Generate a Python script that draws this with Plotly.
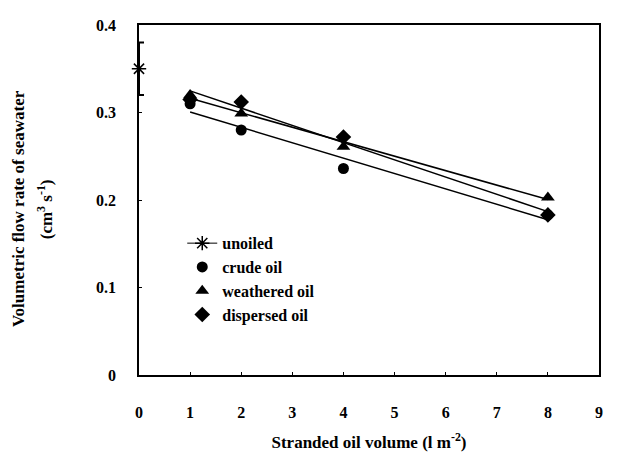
import numpy as np
import plotly.graph_objects as go

# Data
unoiled_x = [0]
unoiled_y = [0.35]
unoiled_err = [0.03]

oil_x = [1, 2, 4, 8]
crude_y = [0.310, 0.280, 0.236, 0.183]
weathered_y = [0.320, 0.299, 0.261, 0.203]
dispersed_y = [0.315, 0.312, 0.272, 0.183]

x_ticks = [0, 1, 2, 3, 4, 5, 6, 7, 8, 9]
y_ticks = [0, 0.1, 0.2, 0.3, 0.4]
y_tick_labels = ["0", "0.1", "0.2", "0.3", "0.4"]

y_title_lines = ["<b>Volumetric flow rate of seawater</b>",
                 "<b>(cm<sup>3</sup> s<sup>-1</sup>)</b>"]

FONT = "Liberation Serif"

fig = go.Figure()

# trend lines (linear fits of the data)
for ys in (crude_y, weathered_y, dispersed_y):
    slope, intercept = np.polyfit(oil_x, ys, 1)
    xs = [min(oil_x), max(oil_x)]
    fig.add_trace(go.Scatter(
        x=xs, y=[slope * v + intercept for v in xs], mode="lines",
        line=dict(color="black", width=1.5), showlegend=False, hoverinfo="skip"))

fig.add_trace(go.Scatter(
    x=unoiled_x, y=unoiled_y, mode="lines+markers", name="unoiled",
    line=dict(color="black", width=1),
    marker=dict(symbol="asterisk-open", size=12, color="black",
                line=dict(color="black", width=1.5)),
    error_y=dict(type="data", array=unoiled_err, visible=True,
                 color="black", thickness=2, width=5),
    cliponaxis=False))

fig.add_trace(go.Scatter(
    x=oil_x, y=crude_y, mode="markers", name="crude oil",
    marker=dict(symbol="circle", size=11, color="black")))
fig.add_trace(go.Scatter(
    x=oil_x, y=weathered_y, mode="markers", name="weathered oil",
    marker=dict(symbol="triangle-up", size=12, color="black")))
fig.add_trace(go.Scatter(
    x=oil_x, y=dispersed_y, mode="markers", name="dispersed oil",
    marker=dict(symbol="diamond", size=12, color="black")))

# y-axis title as two separately placed lines
for xpos, txt in zip([-0.263, -0.204], y_title_lines):
    fig.add_annotation(
        xref="paper", yref="paper", x=xpos, y=0.474, text=txt,
        textangle=-90, showarrow=False, xanchor="center", yanchor="middle",
        font=dict(family=FONT, size=17, color="black"))

fig.update_layout(
    width=609, height=450,
    margin=dict(l=131, r=18, t=9, b=80),
    paper_bgcolor="white", plot_bgcolor="white",
    font=dict(family=FONT, size=16, color="black"),
    legend=dict(x=0.094, y=0.425, xanchor="left", yanchor="top",
                bgcolor="rgba(0,0,0,0)",
                font=dict(family=FONT, size=16, color="black", weight="bold")),
)

fig.update_xaxes(
    range=[0, 9], tickvals=x_ticks, ticktext=[str(v) for v in x_ticks],
    showgrid=False, zeroline=False, showline=True, linecolor="black",
    linewidth=1.5, mirror=True, ticks="inside", ticklen=3, tickcolor="black",
    ticklabelstandoff=22,
    tickfont=dict(family=FONT, size=16, weight="bold"),
    title=dict(text="<b>Stranded oil volume (l m<sup>-2</sup>)</b>",
               font=dict(family=FONT, size=17), standoff=16),
)
fig.update_yaxes(
    range=[0, 0.4], tickvals=y_ticks, ticktext=y_tick_labels,
    showgrid=False, zeroline=False, showline=True, linecolor="black",
    linewidth=1.5, mirror=True, ticks="inside", ticklen=3, tickcolor="black",
    ticklabelstandoff=18,
    tickfont=dict(family=FONT, size=16, weight="bold"),
)

fig.write_html("out.html")
